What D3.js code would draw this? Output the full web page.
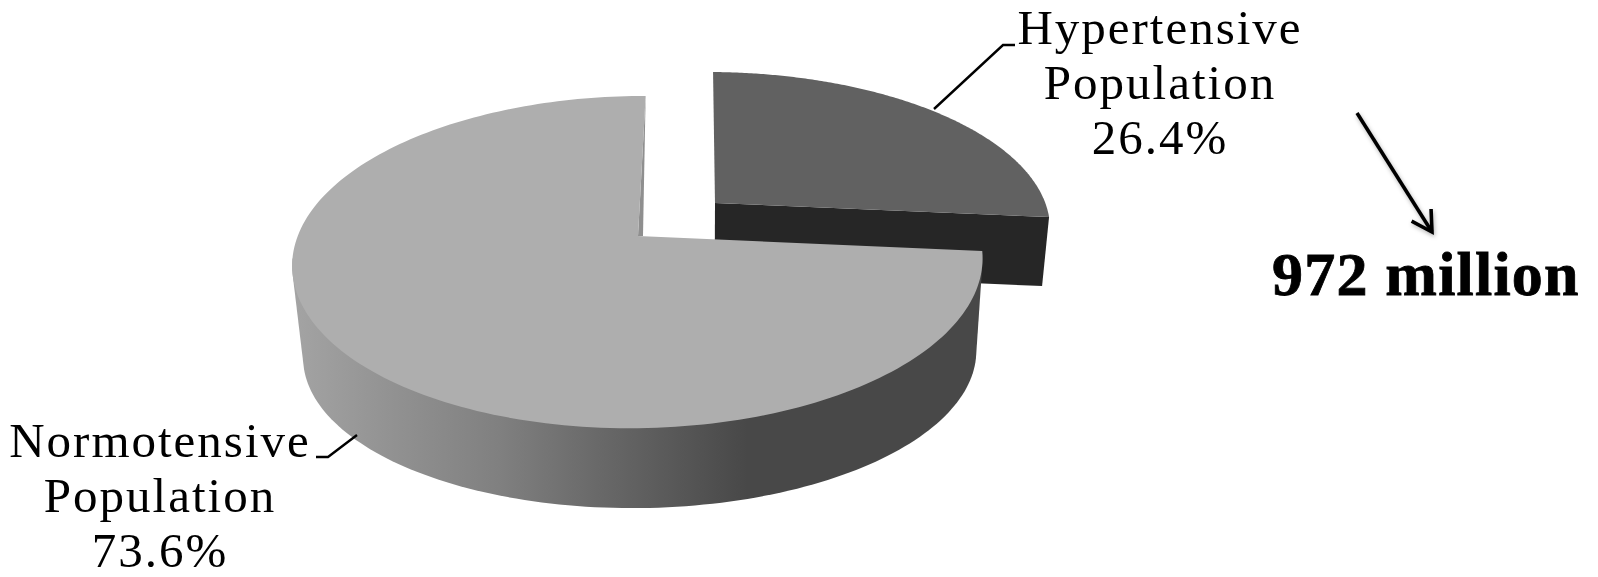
<!DOCTYPE html>
<html>
<head>
<meta charset="utf-8">
<script src="https://cdn.jsdelivr.net/npm/d3@7"></script>
<style>
html,body{margin:0;padding:0;background:#fff;overflow:hidden}
svg{display:block}
text{font-family:"Liberation Serif",serif;fill:#000}
</style>
</head>
<body>
<svg id="chart" width="1598" height="577"></svg>
<script>
// Population split shown as an exploded 3D pie
const categories = ["Hypertensive", "Normotensive"];
const shares = [26.4, 73.6];
const faceColors = ["#616161", "#aeaeae"];
const totalLabel = "972 million";

const svg = d3.select("#chart");
const defs = svg.append("defs");

// Side wall shading, light on the left and dark on the right
const wallStops = [[0, "#a4a4a4"], [0.16, "#909090"], [0.3, "#808080"], [0.45, "#686868"], [0.53, "#5c5c5c"], [0.66, "#484848"], [1, "#484848"]];
const wallGrad = defs.append("linearGradient")
  .attr("id", "wall").attr("gradientUnits", "userSpaceOnUse")
  .attr("x1", 291).attr("x2", 982).attr("y1", 0).attr("y2", 0);
wallStops.forEach(s => wallGrad.append("stop").attr("offset", s[0]).attr("stop-color", s[1]));

const soft = defs.append("filter").attr("id", "soft").attr("x", "-30%").attr("y", "-30%").attr("width", "160%").attr("height", "160%");
soft.append("feDropShadow").attr("dx", 1).attr("dy", 2).attr("stdDeviation", 2).attr("flood-color", "#000").attr("flood-opacity", 0.3);

const pie = d3.pie().value(d => d).sort(null);
const arcs = pie(shares);

// Perspective projection of the unit disc onto the page, one per slice
function projector(a, b, c, d, e, f, g) {
  return (u, v) => {
    const w = g * u - 0.157 * v + 1;
    return [(a * u + b * v + c) / w, (d * u + e * v + f) / w];
  };
}
const projections = [
  projector(345, -110, 715, 3.6, 119.7, 203, 0.0138),
  projector(339.4, -109, 638, 0.1, 125, 236, -0.0022)
];

// Lower rim of each slice's extrusion as x and y scale plus shift
const lowerRims = [
  p => [0.98 * p[0] + 14, p[1] + 69],
  p => [0.975 * p[0] + 18.3, 0.925 * p[1] + 112]
];

const line = d3.line();
const lastWallAngle = 262 * Math.PI / 180;

// Detached slice first, the large slice overlaps its wall
arcs.forEach((d, i) => {
  const project = projections[i];
  const low = lowerRims[i];
  const g = svg.append("g");
  const n = 200;
  const angles = d3.range(n + 1).map(k => d.startAngle + (d.endAngle - d.startAngle) * k / n);
  const rimAt = a => project(Math.sin(a), -Math.cos(a));
  const pts = angles.map(rimAt);
  const apex = project(0, 0);
  if (i === 0) {
    // Dark cut face along the front edge of the slice
    const tip = pts[pts.length - 1];
    g.append("path").attr("d", line([apex, tip, low(tip), low(apex)]) + "Z").attr("fill", "#262626");
  } else {
    // Curved wall: outline around both rims over the front part of the slice
    const front = angles.filter(a => a <= lastWallAngle).map(rimAt);
    const hull = d3.polygonHull(front.concat(front.map(low)));
    g.append("path").attr("d", line(hull) + "Z").attr("fill", "url(#wall)");
    // Thin visible strip of the cut face beside the gap
    const top = pts[pts.length - 1];
    g.append("path").attr("d", line([apex, top, [apex[0] + 5, apex[1]]]) + "Z").attr("fill", "#8f8f8f");
  }
  g.append("path").attr("d", line([apex].concat(pts)) + "Z").attr("fill", faceColors[i]);
});

// Leader lines from the slices to their labels
svg.append("path").attr("d", "M934,109L1003,45L1015,45").attr("fill", "none").attr("stroke", "#000").attr("stroke-width", 2.4);
svg.append("path").attr("d", "M357,435L328,457L316,457").attr("fill", "none").attr("stroke", "#000").attr("stroke-width", 2.4);

// Category labels with their shares
const labelPos = [[1160, 44], [160, 457]];
categories.forEach((c, i) => {
  const lines = [c, "Population", shares[i].toFixed(1) + "%"];
  svg.append("g").selectAll("text").data(lines).join("text")
    .attr("x", labelPos[i][0])
    .attr("y", (t, k) => labelPos[i][1] + k * 55)
    .attr("text-anchor", "middle")
    .attr("font-size", 49)
    .attr("letter-spacing", 2)
    .text(t => t);
});

// Arrow towards the absolute count
defs.append("marker").attr("id", "head").attr("viewBox", "-24 -15 28 30").attr("refX", 0).attr("refY", 0)
  .attr("markerWidth", 28).attr("markerHeight", 30).attr("markerUnits", "userSpaceOnUse").attr("orient", "auto")
  .append("path").attr("d", "M-20,-11.5L0,0L-20,11.5").attr("fill", "none").attr("stroke", "#000").attr("stroke-width", 3.6);
svg.append("line").attr("x1", 1357).attr("y1", 113).attr("x2", 1432).attr("y2", 232)
  .attr("stroke", "#000").attr("stroke-width", 3.6).attr("marker-end", "url(#head)").attr("filter", "url(#soft)");

svg.append("text").attr("x", 1272).attr("y", 295)
  .attr("font-size", 62).attr("font-weight", "bold").attr("letter-spacing", 1.2)
  .attr("stroke", "#000").attr("stroke-width", 0.8)
  .text(totalLabel);
</script>
</body>
</html>
